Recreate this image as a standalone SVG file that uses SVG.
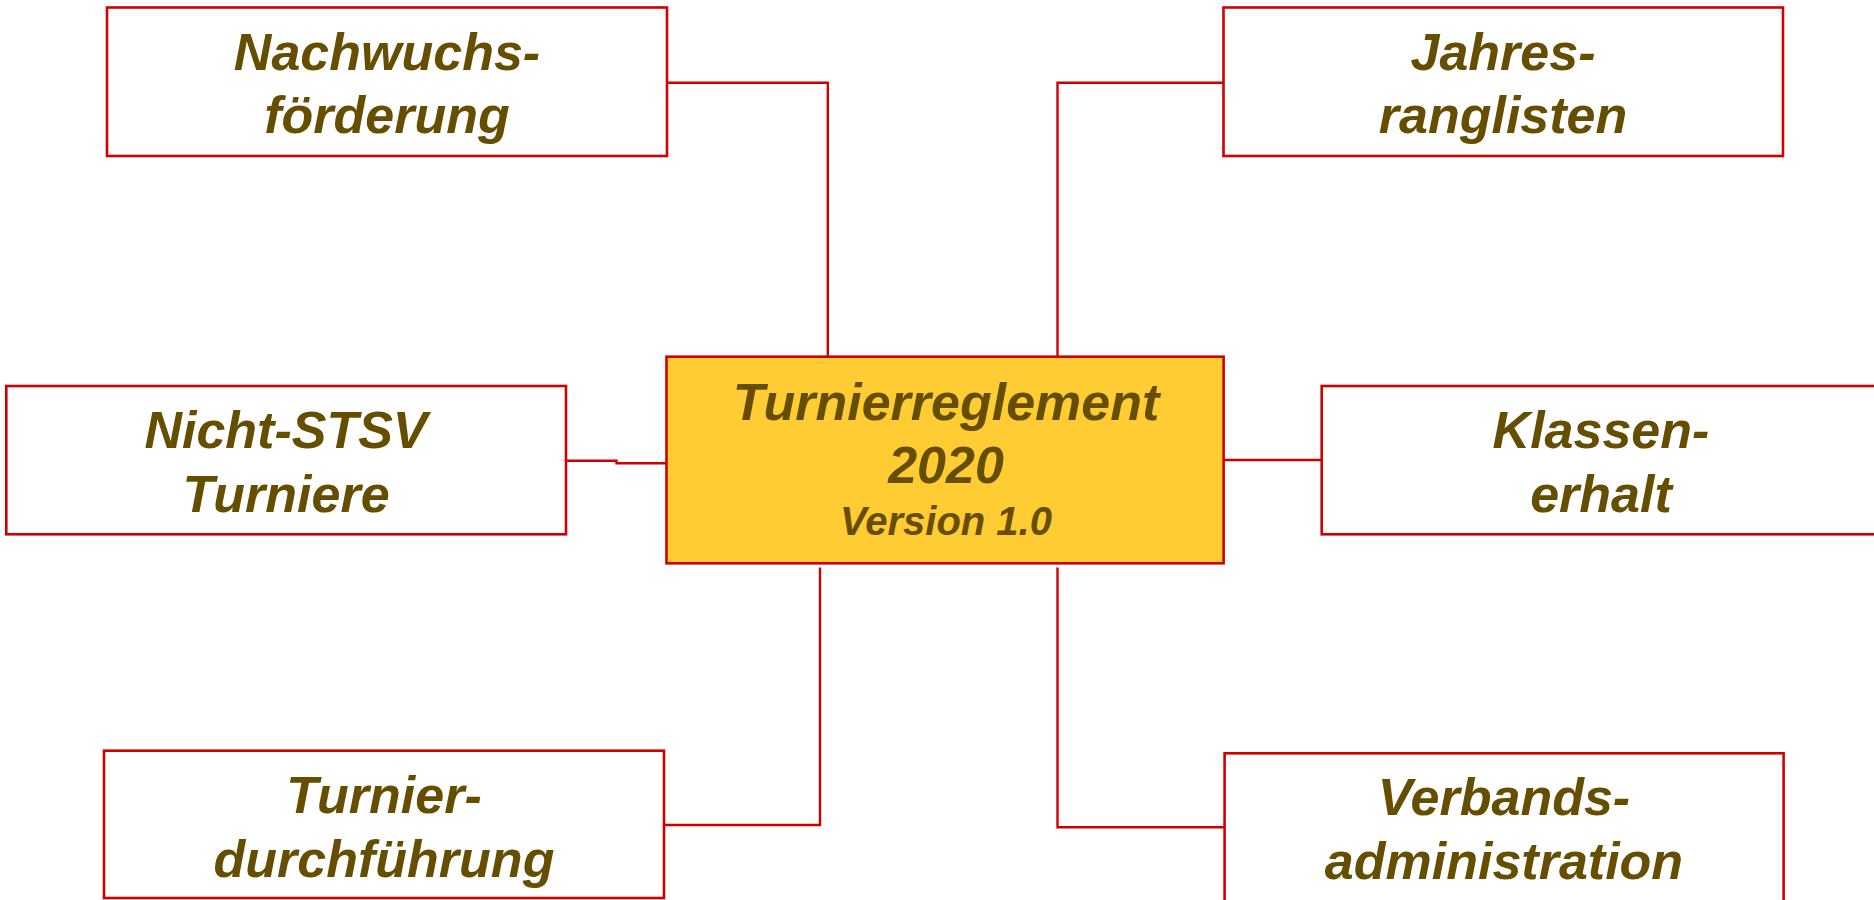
<svg xmlns="http://www.w3.org/2000/svg" width="1874" height="900" viewBox="0 0 1874 900">
<style>
.box{fill:#FFFFFF;stroke:#D00000;stroke-width:2.6}
.main{fill:#FFCC33;stroke:#D00000;stroke-width:2.6}
.lbl{font-family:"Liberation Sans",Arial,sans-serif;font-weight:bold;font-style:italic;fill:#664E00;text-anchor:middle;font-size:52px}
.ver{font-size:40px}
.conn{fill:none;stroke:#D00000;stroke-width:2.4}
</style>
<rect width="1874" height="900" fill="#FFFFFF"/>
<g id="connectors">
<polyline class="conn" points="667,82.7 827.8,82.7 827.8,356.7"/>
<polyline class="conn" points="1223.5,82.7 1057.5,82.7 1057.5,356.7"/>
<polyline class="conn" points="566,460.7 616.5,460.7 616.5,463.3 666.5,463.3"/>
<polyline class="conn" points="1223.6,460 1321.7,460"/>
<polyline class="conn" points="664,825 820,825 820,567.5"/>
<polyline class="conn" points="1224.6,827.3 1057.5,827.3 1057.5,567.5"/>
</g>
<g id="center">
<rect class="main" x="666.5" y="356.7" width="557.1" height="206.6"/>
<text class="lbl" x="946" y="420">Turnierreglement</text>
<text class="lbl" x="946" y="482.7">2020</text>
<text class="lbl ver" x="946" y="535">Version 1.0</text>
</g>
<g id="nachwuchs">
<rect class="box" x="107" y="7.5" width="560" height="148.5"/>
<text class="lbl" x="387" y="70">Nachwuchs-</text>
<text class="lbl" x="387" y="133">förderung</text>
</g>
<g id="jahres">
<rect class="box" x="1223.5" y="7.5" width="559.5" height="148.5"/>
<text class="lbl" x="1503" y="70">Jahres-</text>
<text class="lbl" x="1503" y="133">ranglisten</text>
</g>
<g id="nicht-stsv">
<rect class="box" x="6.3" y="386" width="559.7" height="148.3"/>
<text class="lbl" x="286" y="448.3">Nicht-STSV</text>
<text class="lbl" x="286" y="511.7">Turniere</text>
</g>
<g id="klassen">
<rect class="box" x="1321.7" y="386" width="558.3" height="148.3"/>
<text class="lbl" x="1601" y="448.3">Klassen-</text>
<text class="lbl" x="1601" y="511.7">erhalt</text>
</g>
<g id="turnier">
<rect class="box" x="104" y="750.7" width="560" height="147.3"/>
<text class="lbl" x="384" y="813.3">Turnier-</text>
<text class="lbl" x="384" y="876.7">durchführung</text>
</g>
<g id="verbands">
<rect class="box" x="1224.6" y="753.3" width="559" height="148"/>
<text class="lbl" x="1504" y="815">Verbands-</text>
<text class="lbl" x="1504" y="879">administration</text>
</g>
</svg>
